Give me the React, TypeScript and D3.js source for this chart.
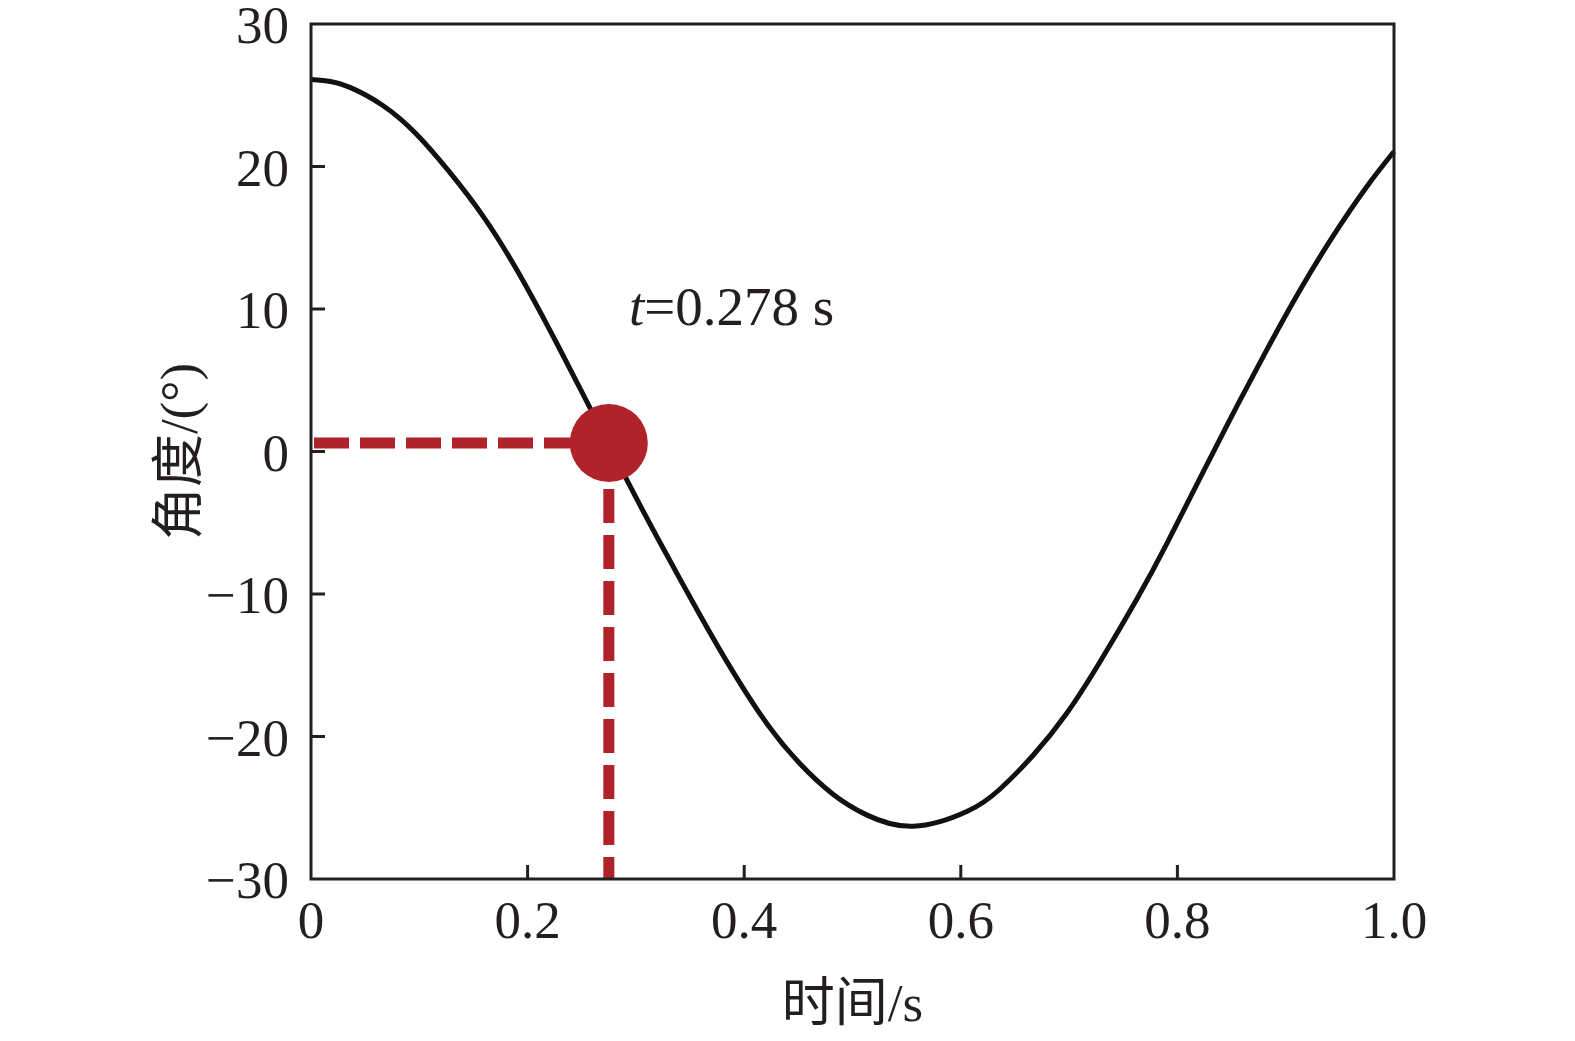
import React from 'react';
import * as d3 from 'd3';

// Data
const timeS = [0, 0.018, 0.036, 0.066, 0.097, 0.128, 0.159, 0.19, 0.221, 0.251, 0.292, 0.322, 0.359, 0.39, 0.421, 0.452, 0.482, 0.513, 0.556, 0.606, 0.636, 0.667, 0.698, 0.729, 0.763, 0.79, 0.821, 0.852, 0.883, 0.913, 0.944, 0.975, 1.0];
const angleDeg = [26.1, 25.96, 25.55, 24.3, 22.3, 19.6, 16.5, 12.75, 8.45, 4.05, -2.05, -6.35, -11.45, -15.5, -19.1, -21.95, -24.05, -25.5, -26.3, -25.25, -23.7, -21.3, -18.35, -14.7, -10.3, -6.5, -1.85, 2.75, 7.2, 11.3, 15.15, 18.6, 21.05];

const xTicks = [0, 0.2, 0.4, 0.6, 0.8, 1.0];
const xTickLabels = ['0', '0.2', '0.4', '0.6', '0.8', '1.0'];
const yTicks = [-30, -20, -10, 0, 10, 20, 30];
const yTickLabels = ['\u221230', '\u221220', '\u221210', '0', '10', '20', '30'];

const markerT = 0.275;
const markerAngle = 0.6;
const markerLabelVar = 't';
const markerLabelText = '=0.278 s';
const xTitle = '时间/s';
const yTitle = '角度/(°)';

const W = 1575;
const H = 1041;
const PLOT = { left: 311, right: 1394, top: 24, bottom: 879 };
const INK = '#231f20';
const RED = '#b0232a';
const FONT = '"Liberation Serif", "Times New Roman", "Noto Sans CJK SC", serif';

export default function App() {
  const x = d3.scaleLinear().domain([0, 1]).range([PLOT.left, PLOT.right]);
  const y = d3.scaleLinear().domain([-30, 30]).range([PLOT.bottom, PLOT.top]);

  const line = d3
    .line<number>()
    .x((_, i) => x(timeS[i]))
    .y((d) => y(d))
    .curve(d3.curveNatural);

  const path = line(angleDeg) || '';
  const mx = x(markerT);
  const my = y(markerAngle);
  const R = 39;
  const tickLen = 14;

  return (
    <svg
      width={W}
      height={H}
      viewBox={`0 0 ${W} ${H}`}
      style={{ position: 'absolute', left: 0, top: 0, background: '#fff' }}
    >
      <rect x={0} y={0} width={W} height={H} fill="#fff" />
      {/* curve */}
      <path d={path} fill="none" stroke="#111" strokeWidth={5} strokeLinejoin="round" />
      {/* dashed guides */}
      <line
        x1={x(0) + 3}
        x2={mx - R + 4}
        y1={my}
        y2={my}
        stroke={RED}
        strokeWidth={11}
        strokeDasharray="35 11"
      />
      <line
        x1={mx}
        x2={mx}
        y1={my + R + 7}
        y2={y(-30)}
        stroke={RED}
        strokeWidth={11}
        strokeDasharray="34 12"
      />
      <circle cx={mx} cy={my} r={R} fill={RED} />
      {/* frame */}
      <rect
        x={PLOT.left}
        y={PLOT.top}
        width={PLOT.right - PLOT.left}
        height={PLOT.bottom - PLOT.top}
        fill="none"
        stroke={INK}
        strokeWidth={3}
      />
      {/* x ticks */}
      {xTicks.map((t, i) => (
        <g key={'xt' + i}>
          {i > 0 && i < xTicks.length - 1 && (
            <line x1={x(t)} x2={x(t)} y1={PLOT.bottom} y2={PLOT.bottom - tickLen} stroke={INK} strokeWidth={3} />
          )}
          <text
            x={x(t)}
            y={PLOT.bottom + 59}
            textAnchor="middle"
            fontFamily={FONT}
            fontSize={53}
            fill={INK}
          >
            {xTickLabels[i]}
          </text>
        </g>
      ))}
      {/* y ticks */}
      {yTicks.map((v, i) => (
        <g key={'yt' + i}>
          {i > 0 && i < yTicks.length - 1 && (
            <line x1={PLOT.left} x2={PLOT.left + tickLen} y1={y(v)} y2={y(v)} stroke={INK} strokeWidth={3} />
          )}
          <text
            x={289}
            y={y(v) + 19}
            textAnchor="end"
            fontFamily={FONT}
            fontSize={53}
            fill={INK}
          >
            {yTickLabels[i]}
          </text>
        </g>
      ))}
      {/* annotation */}
      <text x={629} y={325} fontFamily={FONT} fontSize={55} fill={INK}>
        <tspan fontStyle="italic">{markerLabelVar}</tspan>
        <tspan>{markerLabelText}</tspan>
      </text>
      {/* axis titles */}
      <text
        x={(PLOT.left + PLOT.right) / 2}
        y={1021}
        textAnchor="middle"
        fontFamily={FONT}
        fontSize={53}
        fill={INK}
      >
        {xTitle}
      </text>
      <text
        transform={`translate(197, ${(PLOT.top + PLOT.bottom) / 2}) rotate(-90)`}
        textAnchor="middle"
        fontFamily={FONT}
        fontSize={53}
        fill={INK}
      >
        {yTitle}
      </text>
    </svg>
  );
}
